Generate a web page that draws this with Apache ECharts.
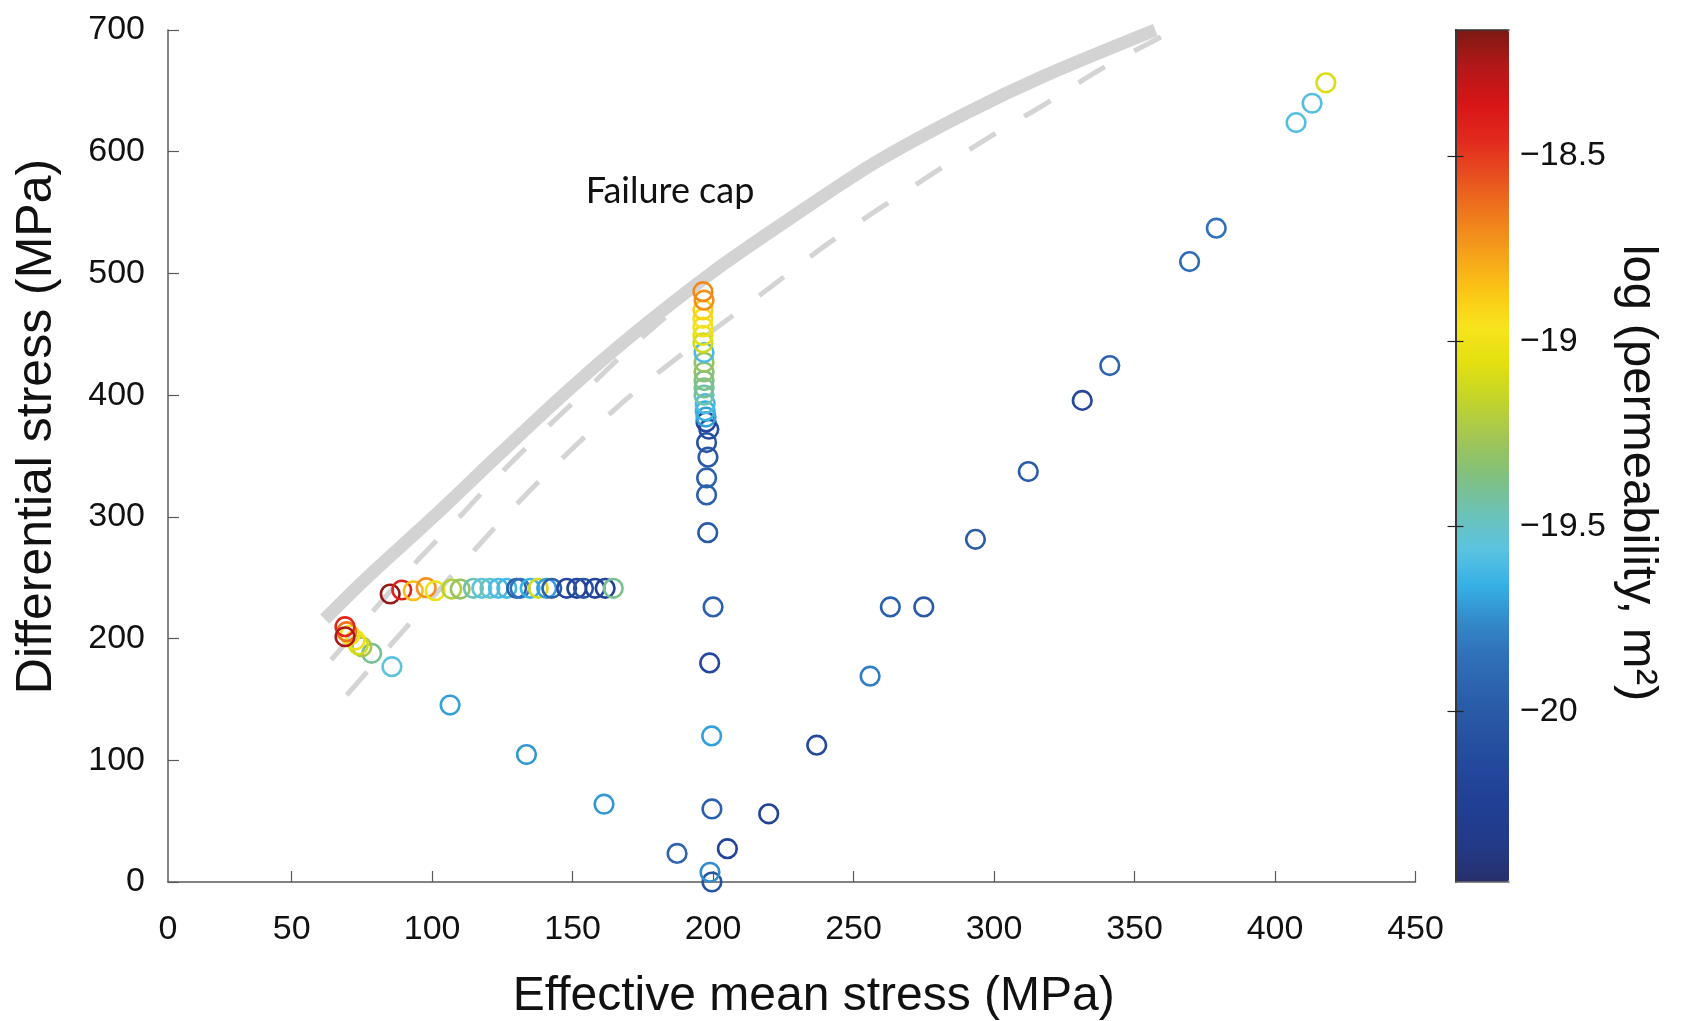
<!DOCTYPE html>
<html>
<head>
<meta charset="utf-8">
<title>Stress path and permeability</title>
<script src="https://cdn.jsdelivr.net/npm/echarts@6/dist/echarts.min.js"></script>
<style>
  html, body { margin: 0; padding: 0; background: #ffffff; }
  #chart { width: 1688px; height: 1021px; }
</style>
</head>
<body>
<div id="chart"></div>
<script>
// Loading path: effective mean stress p' (MPa), differential stress q (MPa)
// and log10 permeability (m^2) measured at each step.
const meanStress = [
  // unloading / reloading branch on the right
  418.1, 413.2, 407.5, 379.1, 369.6, 341.2, 331.4, 312.2, 293.4, 275.0, 263.1,
  255.9, 236.9, 219.8, 205.1, 187.2,
  // constant-p' column near 200 MPa
  199.6, 198.9, 199.6, 199.5, 198.8, 200.0, 198.1, 197.7, 197.7, 198.2, 197.7,
  198.5, 197.5, 197.5, 197.2, 197.2, 196.8, 196.8, 196.8, 196.8, 196.8, 196.8,
  196.4, 196.4, 196.4, 196.4, 196.4, 196.8, 196.4,
  // horizontal run at q ~ 240 MPa
  85.1, 89.2, 93.3, 97.9, 101.1, 107.0, 110.0, 114.7, 117.7, 120.6, 123.6,
  126.6, 130.1, 131.3, 134.9, 137.8, 140.8, 142.6, 147.9, 151.5, 153.9, 158.0,
  161.6, 164.5,
  // low-pressure cluster and tail
  161.2, 133.6, 106.4, 85.7, 78.5, 75.0, 73.8, 72.6, 70.8, 69.6, 69.0, 69.0
];
const diffStress = [
  656.6, 639.8, 623.9, 537.2, 509.7, 424.3, 395.7, 337.2, 281.5, 226.0, 226.0,
  169.1, 112.4, 56.0, 27.4, 23.5,
  0.0, 8.0, 60.0, 120.0, 180.0, 226.0, 287.0, 318.0, 332.0, 349.0, 361.0,
  372.0, 378.0, 382.0, 387.0, 393.0, 400.0, 406.0, 412.0, 419.0, 427.0, 435.0,
  443.0, 449.0, 456.0, 463.0, 470.0, 478.0, 485.0,
  236.6, 239.9, 239.3, 241.8, 239.3, 240.7, 240.7, 241.3, 241.3, 241.3, 241.3,
  241.3, 241.3, 241.3, 241.3, 241.3, 241.3, 241.3, 241.3, 241.3, 241.3, 241.3,
  241.3, 241.3,
  63.9, 104.7, 145.4, 176.9, 187.9, 193.3, 194.7, 198.8, 202.9, 205.7, 209.8, 201.5
];
const logPermeability = [
  -19.08, -19.58, -19.58, -19.85, -19.88, -19.93, -20.15, -19.98, -19.98, -20.00, -19.95,
  -19.80, -20.15, -20.22, -20.22, -19.92,
  -20.05, -19.75, -19.95, -19.70, -20.15, -19.95, -20.00, -19.95, -19.95, -20.00, -20.05,
  -20.10, -20.15, -19.70, -19.65, -19.60, -19.45, -19.40, -19.38, -19.33, -19.30, -19.60,
  -19.12, -19.05, -19.00, -18.95, -18.90, -18.72, -18.70,
  -18.20, -18.42, -18.85, -18.72, -19.00, -19.20, -19.30, -19.45, -19.55, -19.50, -19.60,
  -19.62, -19.95, -19.85, -19.65, -19.10, -19.70, -19.95, -20.15, -20.20, -20.05, -20.20,
  -20.22, -19.40,
  -19.72, -19.72, -19.70, -19.55, -19.40, -19.25, -19.10, -19.00, -18.95, -18.65, -18.45, -18.25
];

// Failure cap (thick grey) and the two dashed yield surfaces
const capMean = [61.8, 76.8, 100.5, 124.2, 148.0, 171.6, 200.1, 226.7, 257.3, 290.0, 318.6, 357.4];
const capDiff = [216.0, 250.0, 300.0, 352.0, 403.0, 450.0, 501.5, 544.0, 590.5, 631.6, 663.0, 700.0];
const upperYieldMean = [64.1, 92.8, 107.6, 122.4, 137.5, 153.0, 168.1, 185.0];
const upperYieldDiff = [182.4, 259.1, 294.7, 331.1, 365.9, 400.1, 433.8, 468.0];
const lowerYieldMean = [69.6, 115.9, 131.9, 148.5, 165.4, 183.5, 221.1, 239.4, 258.9, 278.8, 298.2, 318.6, 338.0, 359.4];
const lowerYieldDiff = [153.6, 274.8, 314.7, 352.9, 389.2, 424.0, 489.9, 522.0, 552.8, 583.0, 611.7, 639.8, 667.8, 694.3];

// Axis ticks
const meanAxisStart = 6;              // the y axis stands just right of p' = 0
const meanTicks = [50, 100, 150, 200, 250, 300, 350, 400, 450];
const permRange = [-20.46, -18.16];
const permTicks = [-20, -19.5, -19, -18.5];

// Jet-like colour scale, low permeability to high
const permColors = [
  '#272f6b', '#223a88', '#203f94', '#22479c', '#2752a2', '#2b5fab', '#2f6eb8', '#3388c8',
  '#35b0e6', '#5cc3e0', '#6cc2b4', '#82c07c', '#a2c654', '#c2d42a', '#e2e010', '#f8e41c',
  '#fcc416', '#f5a01a', '#ef7a1c', '#e8521f', '#e22a1e', '#d81417', '#b41818', '#7c1913'
];

const FONT = "'Liberation Sans', Arial, Helvetica, sans-serif";
const AXIS_GREY = '#5a5a5a';

const pairs = (xs, ys) => xs.map((x, i) => [x, ys[i]]);
const samples = meanStress.map((x, i) => [x, diffStress[i], logPermeability[i]]);
const minusSign = v => (v < 0 ? '\u2212' : '') + Math.abs(v);

const chart = echarts.init(document.getElementById('chart'));

chart.setOption({
  animation: false,
  backgroundColor: '#ffffff',
  grid: [
    { left: 168, top: 30, width: 1247.5, height: 852, containLabel: false, outerBoundsMode: 'none' },
    { left: 1455.5, top: 30, width: 53.5, height: 852, containLabel: false, outerBoundsMode: 'none' }
  ],
  xAxis: [
    {
      gridIndex: 0, type: 'value', min: meanAxisStart, max: 450,
      axisLine: { lineStyle: { color: AXIS_GREY, width: 1.5 } },
      axisTick: { inside: true, length: 11, customValues: meanTicks, lineStyle: { color: AXIS_GREY, width: 1.2 } },
      axisLabel: {
        customValues: [meanAxisStart].concat(meanTicks),
        formatter: v => (v === meanAxisStart ? '0' : String(v)),
        margin: 31, fontSize: 34, color: '#111', fontFamily: FONT
      },
      splitLine: { show: false },
      name: 'Effective mean stress (MPa)', nameLocation: 'middle', nameGap: 91,
      nameTextStyle: { fontSize: 48, color: '#111', fontFamily: FONT, padding: [0, 0, 0, 44] }
    },
    {
      gridIndex: 1, type: 'value', min: 0, max: 1, position: 'bottom', z: 10,
      axisLine: { lineStyle: { color: '#666', width: 1.5 } },
      axisTick: { show: false }, axisLabel: { show: false }, splitLine: { show: false }
    },
    {
      gridIndex: 1, type: 'value', min: 0, max: 1, position: 'top', z: 10,
      axisLine: { lineStyle: { color: '#333', width: 1.5 } },
      axisTick: { show: false }, axisLabel: { show: false }, splitLine: { show: false }
    }
  ],
  yAxis: [
    {
      gridIndex: 0, type: 'value', min: 0, max: 700, interval: 100,
      axisLine: { show: true, lineStyle: { color: AXIS_GREY, width: 1.5 } },
      axisTick: { show: true, inside: true, length: 11, lineStyle: { color: AXIS_GREY, width: 1.2 } },
      axisLabel: { margin: 23, fontSize: 34, color: '#111', fontFamily: FONT },
      splitLine: { show: false },
      name: 'Differential stress (MPa)', nameLocation: 'middle', nameGap: 106,
      nameTextStyle: { fontSize: 50, color: '#111', fontFamily: FONT, padding: [0, 0, 0, 59] }
    },
    {
      gridIndex: 1, type: 'value', min: permRange[0], max: permRange[1], position: 'right', z: 10,
      axisLine: { show: true, lineStyle: { color: '#777', width: 2 } },
      axisTick: { show: true, inside: true, length: 8, customValues: permTicks, lineStyle: { color: '#222', width: 1.2 } },
      axisLabel: { customValues: permTicks, formatter: minusSign, margin: 11, fontSize: 34, color: '#111', fontFamily: FONT },
      splitLine: { show: false },
      name: 'log (permeability, m\u00B2)', nameLocation: 'middle', nameGap: 104, nameRotate: -90,
      nameTextStyle: { fontSize: 49, color: '#111', fontFamily: FONT, padding: [0, 0, 0, 34] }
    },
    {
      gridIndex: 1, type: 'value', min: permRange[0], max: permRange[1], position: 'left', z: 10,
      axisLine: { show: true, lineStyle: { color: '#222', width: 1.5 } },
      axisTick: { show: true, inside: true, length: 8, customValues: permTicks, lineStyle: { color: '#222', width: 1.2 } },
      axisLabel: { show: false },
      splitLine: { show: false }
    }
  ],
  visualMap: {
    type: 'continuous',
    min: permRange[0], max: permRange[1],
    dimension: 2, seriesIndex: 3,
    inRange: { color: permColors },
    orient: 'vertical',
    left: 1455.5, top: 30,
    itemWidth: 53.5, itemHeight: 852,
    padding: 0, calculable: false, hoverLink: false,
    text: null, showLabel: false,
    z: 4
  },
  graphic: [{
    type: 'text', x: 670, y: 191, z: 20,
    style: { text: 'Failure cap', font: "36px Lato, 'Open Sans', sans-serif", fill: '#111', textAlign: 'center', textVerticalAlign: 'middle' }
  }],
  series: [
    {
      type: 'line', xAxisIndex: 0, yAxisIndex: 0, data: pairs(lowerYieldMean, lowerYieldDiff),
      smooth: 0.3, symbol: 'none', silent: true, z: 1,
      lineStyle: { color: '#d4d4d4', width: 5, type: [31, 33], cap: 'butt' }
    },
    {
      type: 'line', xAxisIndex: 0, yAxisIndex: 0, data: pairs(upperYieldMean, upperYieldDiff),
      smooth: 0.3, symbol: 'none', silent: true, z: 1,
      lineStyle: { color: '#d4d4d4', width: 5, type: [31, 33], cap: 'butt' }
    },
    {
      type: 'line', xAxisIndex: 0, yAxisIndex: 0, data: pairs(capMean, capDiff),
      smooth: 0.3, symbol: 'none', silent: true, z: 2,
      lineStyle: { color: '#d3d3d3', width: 13, cap: 'butt' }
    },
    {
      type: 'custom', coordinateSystem: 'cartesian2d', xAxisIndex: 0, yAxisIndex: 0,
      data: samples, encode: { x: 0, y: 1 }, z: 5,
      renderItem: (params, api) => {
        const p = api.coord([api.value(0), api.value(1)]);
        return {
          type: 'circle',
          shape: { cx: p[0], cy: p[1], r: 9.3 },
          style: { fill: 'none', stroke: api.visual('color'), lineWidth: 2.6 }
        };
      }
    }
  ]
});
</script>
</body>
</html>
